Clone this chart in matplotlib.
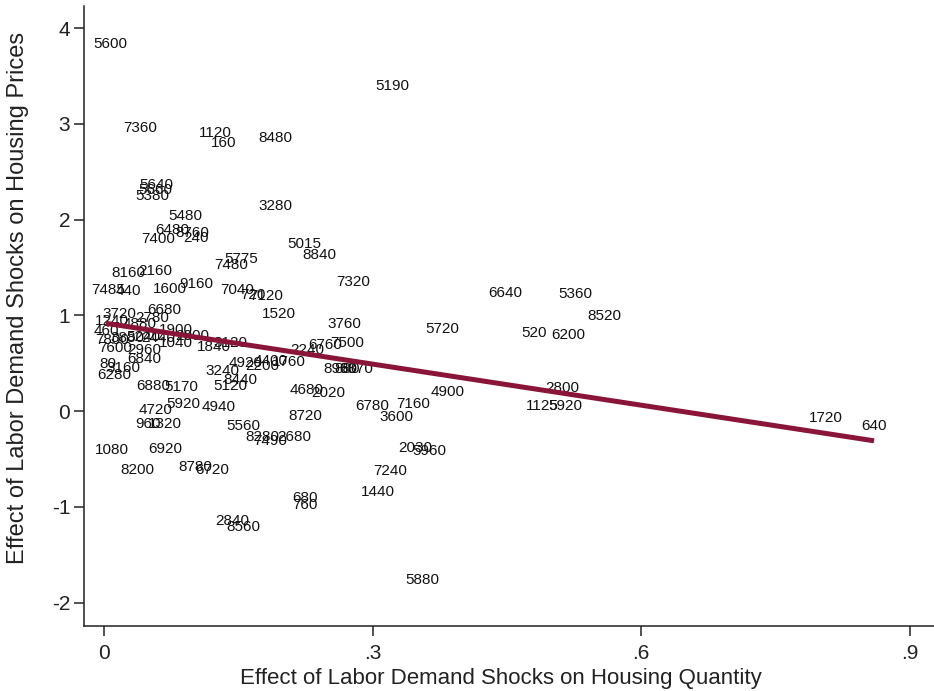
import matplotlib
matplotlib.use("Agg")
import matplotlib.pyplot as plt

# MSA codes and estimated effects
msa = ["5600", "5190", "7360", "1120", "160", "8480", "5640", "5660", "5380",
       "5480", "3280", "6480", "8760", "7400", "240", "5015", "8840", "7480",
       "5775", "8160", "2160", "7485", "440", "1600", "9160", "7040", "720",
       "7120", "1520", "7320", "6640", "5360", "8520", "5720", "520", "6200",
       "3760", "7500", "6760", "2240", "6680", "3240", "4920", "2200", "4400",
       "1760", "8440", "5120", "5170", "6880", "5920", "4720", "960", "1320",
       "4940", "5560", "8280", "7490", "2680", "8720", "4680", "2020", "8960",
       "880", "8870", "6780", "7160", "3600", "4900", "2800", "1125", "5920",
       "1720", "640", "1080", "8200", "6920", "8780", "6720", "2030", "5960",
       "7240", "1440", "680", "760", "2840", "8560", "5880", "1840", "3120",
       "1240", "3720", "2780", "4880", "1900", "2000", "460", "7800", "3880",
       "5240", "2440", "1040", "7600", "2960", "6840", "80", "3160", "6280"]

quantity = [0.007, 0.322, 0.040, 0.124, 0.134, 0.191, 0.058, 0.057, 0.054,
            0.091, 0.191, 0.076, 0.099, 0.060, 0.103, 0.224, 0.240, 0.142,
            0.153, 0.027, 0.057, 0.004, 0.027, 0.074, 0.103, 0.149, 0.166,
            0.181, 0.195, 0.278, 0.448, 0.526, 0.559, 0.378, 0.480, 0.518,
            0.268, 0.271, 0.247, 0.227, 0.067, 0.132, 0.158, 0.177, 0.186,
            0.206, 0.152, 0.141, 0.086, 0.055, 0.088, 0.057, 0.049, 0.068,
            0.128, 0.156, 0.177, 0.186, 0.212, 0.225, 0.226, 0.250, 0.264,
            0.272, 0.282, 0.300, 0.345, 0.326, 0.384, 0.512, 0.489, 0.515,
            0.806, 0.860, 0.009, 0.037, 0.068, 0.102, 0.121, 0.348, 0.363,
            0.320, 0.306, 0.224, 0.224, 0.143, 0.156, 0.356, 0.123, 0.141,
            0.009, 0.017, 0.054, 0.040, 0.080, 0.099, 0.002, 0.009, 0.026,
            0.044, 0.060, 0.080, 0.012, 0.045, 0.045, 0.004, 0.022, 0.011]

price = [3.83, 3.40, 2.96, 2.90, 2.80, 2.85, 2.36, 2.31, 2.25,
         2.04, 2.14, 1.89, 1.86, 1.80, 1.81, 1.75, 1.63, 1.53,
         1.59, 1.44, 1.46, 1.26, 1.25, 1.28, 1.33, 1.27, 1.21,
         1.20, 1.01, 1.35, 1.23, 1.22, 0.99, 0.86, 0.82, 0.79,
         0.91, 0.71, 0.69, 0.64, 1.06, 0.42, 0.50, 0.47, 0.52,
         0.51, 0.32, 0.26, 0.25, 0.26, 0.07, 0.01, -0.13, -0.13,
         0.04, -0.16, -0.27, -0.31, -0.27, -0.05, 0.22, 0.19, 0.44,
         0.44, 0.44, 0.05, 0.07, -0.06, 0.20, 0.24, 0.05, 0.05,
         -0.07, -0.16, -0.41, -0.61, -0.40, -0.58, -0.61, -0.39, -0.42,
         -0.62, -0.84, -0.91, -0.98, -1.15, -1.21, -1.76, 0.67, 0.71,
         0.94, 1.01, 0.97, 0.91, 0.85, 0.78, 0.84, 0.74, 0.76,
         0.77, 0.76, 0.71, 0.66, 0.64, 0.54, 0.49, 0.45, 0.38]

# fitted regression line
fit_intercept = 0.92
fit_slope = -1.43

plt.rcParams['font.family'] = ['Liberation Sans', 'DejaVu Sans']

fig = plt.figure(figsize=(9.34, 6.91), dpi=100)
ax = fig.add_axes([0.09, 0.094, 0.91, 0.897])

# MSA labels as markers
for code, x, y in zip(msa, quantity, price):
    ax.text(x, y, code, ha='center', va='center', fontsize=11, color='#111111', zorder=2)

# Fitted line over the data range
x0, x1 = min(quantity), max(quantity)
ax.plot([x0, x1], [fit_intercept + fit_slope * x0, fit_intercept + fit_slope * x1],
        color='#8a1538', linewidth=3.6, solid_capstyle='butt', zorder=3)

ax.set_xlim(-0.0224, 0.927)
ax.set_ylim(-2.244, 4.228)
ax.set_xticks([0, 0.3, 0.6, 0.9])
ax.set_xticklabels(['0', '.3', '.6', '.9'])
ax.set_yticks([-2, -1, 0, 1, 2, 3, 4])
ax.set_yticklabels(['-2', '-1', '0', '1', '2', '3', '4'])

for side in ['top', 'right']:
    ax.spines[side].set_visible(False)
for side in ['left', 'bottom']:
    ax.spines[side].set_linewidth(1.1)
    ax.spines[side].set_color('#222222')
ax.tick_params(axis='both', direction='out', length=7, width=1.1, colors='#222222',
               labelsize=15, labelcolor='#222222')
ax.tick_params(axis='y', pad=3)
ax.tick_params(axis='x', pad=6)

ax.set_xlabel('Effect of Labor Demand Shocks on Housing Quantity', fontsize=16,
              color='#222222')
ax.set_ylabel('Effect of Labor Demand Shocks on Housing Prices', fontsize=17,
              color='#222222')
ax.xaxis.set_label_coords(0.49, -0.068)
ax.yaxis.set_label_coords(-0.065, 0.53)

fig.savefig('out.png', dpi=100)
